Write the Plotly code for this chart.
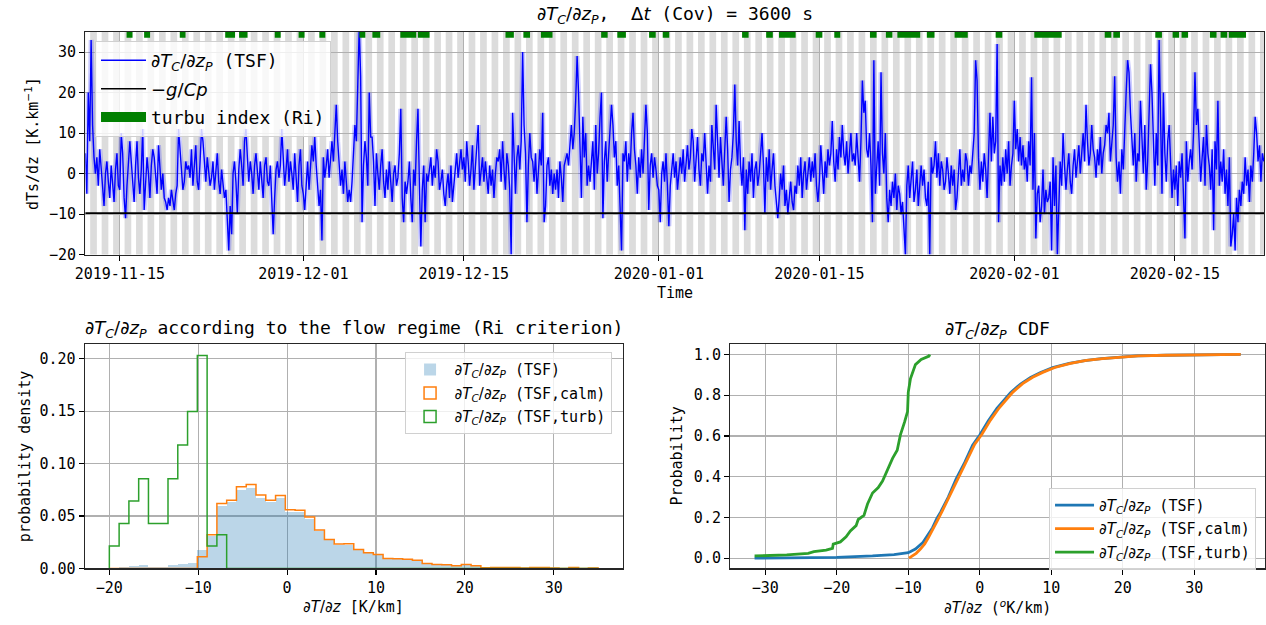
import numpy as np
import pandas as pd
import plotly.graph_objects as go

# ------------------------------------------------------------------ data
series_start = "2019-11-12 00:00"
series_step_hours = 3
# dT/dz (TSF), K/km, one row per day (00,03,...,21 UTC)
dtdz_tsf = [
    5, -5, 20, 8, 33, 12, 4, 0,
    4, -3, 6, 1, -4, -8, 0, 3,
    -2, -6, 2, -4, -7, 1, 5, -3,
    -4, 10, 5, -6, -11, -3, 4, 8,
    3, -2, -7, 2, 8, -1, -5, 1,
    11, -9, -3, 4, 0, -6, 2, 6,
    4, -2, -5, 7, 2, -4, 0, -6,
    -7, -9, -6, -8, -4, -7, -9, -5,
    -3, 11, 5, 0, -4, -2, 3, 1,
    2, -1, 6, -3, 1, 7, -2, -4,
    3, 11, 8, 2, -2, 4, 1, -3,
    -1, 3, -4, 0, 5, -2, -5, 1,
    -3, -6, -4, -10, -19, -8, -15, 0,
    3, -2, -10, 1, 6, 2, -3, 8,
    11, 4, -2, 3, 0, -5, 2, 5,
    1, -4, 3, -1, -6, 2, 4, -2,
    -3, 2, -5, -15, -6, 1, 3, -1,
    2, 11, 4, -3, 1, 6, -2, 3,
    0, -4, 5, -2, -7, 2, 6, -3,
    -5, -9, -2, 3, -4, 1, 7, 3,
    9, 2, -3, -8, -4, -16.5, 4, -1,
    2, 6, -1, 4, 8, 3, 10, 17,
    8, 2, -3, 1, -5, 3, -2, -7,
    -4, -7, -2, 5, 12, 8, 20, 36,
    24, -12, 2, 8, 4, -3, 20, 9,
    9, 3, -8, 5, 0, -4, 2, 6,
    -2, -6, 1, -4, 3, -1, -7, 0,
    2, -3, -1, 5, 16, -6, -12, -2,
    -5, -2, 3, -6, -12, 1, -3, 8,
    16, -3, -18, -4, 2, -12, 0, -2,
    1, 4, -3, 2, -1, 6, 3, -4,
    -2, 1, -5, -8, -3, 0, -6, 2,
    -7, -3, 2, 5, -1, 3, 6, 1,
    4, -2, 8, 3, -3, 1, 7, -4,
    2, 5, 12, -3, 0, 4, -2, 3,
    -1, -5, 2, -3, 1, -6, 0, 4,
    3, 6, -2, 8, 1, -4, 5, 2,
    -4, -20, 15, 2, -5, 4, 7, 1,
    8, 30, 12, 5, -12, 2, 10, 4,
    3, -2, 5, -5, 0, 6, 2, 15,
    -12, -8, 2, 4, -3, 1, -5, 0,
    -4, 1, -6, 3, -1, -7, 2, 4,
    5, 2, 8, 12, 6, 10, 18, 29,
    20, 8, -6, 14, 4, 10, -3, 2,
    -2, 3, 8, -4, 12, 0, 5, 14,
    20, -11, 3, 8, -2, 5, 10, 17,
    12, 4, 8, -3, 2, -8, -19, 5,
    3, 8, -2, 5, 1, 10, 15, 6,
    2, -5, 4, -1, 6, 0, 9, 17,
    10, -9, 2, 5, -1, 4, 1, -3,
    -4, -12, 0, 3, -2, 5, -3, -13,
    -3, 2, 5, -1, 3, -4, 1, 4,
    0, 6, -2, 3, 7, 1, 4, 11,
    8, -2, 4, 9, 1, -3, 5, 3,
    10, 3, -5, 2, -2, 12, 6, 1,
    17, 5, -1, 9, 3, -3, 6, 14,
    6, -7, 1, 4, 10, 22, 8, 2,
    13, 2, -3, 4, -14, 1, -5, 3,
    -2, 5, -6, 1, 3, -3, 0, 6,
    10, 2, -10, 4, -2, 6, -4, 1,
    5, -3, -8, -11, -6, 0, -4, 2,
    -8, -4, -10, -6, -2, -7, -9, -3,
    -5, 2, -3, 4, -6, 0, 3, -4,
    1, 4, -2, 3, -1, 5, -3, -7,
    -2, 7, 1, -5, 3, -1, 6, 2,
    5, 13, 3, -2, 6, 1, 9, 4,
    12, 5, 2, 8, 0, 6, 10, 3,
    5, 2, 10, 4, -2, 8, 23, 15,
    18, 6, 4, 10, 2, -12, 28, -5,
    3, 8, -3, 25, 5, 0, 10, -6,
    -12, -4, -8, -2, -6, 0, -9, -3,
    -5, -10, -7, -14, -20, -3, 2, -6,
    -2, 3, -7, -4, 1, -8, -3, 2,
    -3, 1, -6, -8, -2, -20, 4, 0,
    2, 8, -1, 5, -3, 3, 1, -4,
    -2, 4, 0, -5, 2, -3, 1, -9,
    -6, 2, 6, -3, 1, -2, 5, 3,
    -3, 2, 0, 5, 10, 28, 23, 4,
    -4, 3, -2, 5, 1, -6, 4, 15,
    3, 14, 5, 8, 32, -12, 2, -3,
    4, -2, 6, 0, 8, -3, 2, 5,
    18, 6, 11, 3, 9, 2, 7, 1,
    4, -2, 8, 2, 23.8, -4, 10, -16,
    -5, -3, -12, -8, 1, -10, -4, -7,
    -6, -2, -19, 4, -8, 2, -20, -5,
    3, -3, 10, 2, -4, 1, 5, -2,
    -5, 2, 6, -1, 3, 7, 0, 4,
    10, 3, 17, 8, 2, 5, 12, 6,
    4, -1, 6, 2, 9, 0, 5, 7,
    12, 10, 15, 3, 8, 12, 24, 4,
    -2, 3, -5, 6, 1, 12, 20, 28,
    25, 15, 8, 2, 10, -2, 5, 3,
    18, 6, 0, 12, -4, 3, 15, 27,
    20, 8, -3, 10, 2, 33, 12, -5,
    20, 5, -2, 8, 12, 3, -6, 1,
    -4, 2, -8, 3, -1, 5, -5, -16,
    8, -2, 3, 6, 1, 10, 25, 12,
    16, 6, -2, 4, 9, -3, 12, 5,
    2, -4, 6, -14, 8, 1, 18, -3,
    3, -2, 6, -5, 1, -8, 4, -18,
    -15, -10, -19, -6, -12, -4, -8, -2,
    -5, 4, -3, 1, -7, 2, -2, 5,
    14, 10, 3, 7, -2, 5, 3,
]
minus_g_over_cp = -9.77          # K/km

# turbulence index (Ri) periods, days since 2019-11-15 00:00
turb_ref = "2019-11-15 00:00"
turb_start_day = [0.59, 2.12, 5.23, 9.19, 10.40, 13.51, 15.59, 17.40, 20.89, 22.02,
                  24.46, 25.99, 33.63, 35.19, 36.72, 41.97, 43.38, 46.15, 47.34, 54.26,
                  56.36, 57.48, 60.68, 62.30, 65.41, 66.80, 67.80, 70.37, 72.79, 76.37,
                  79.74, 85.88, 86.63, 90.29, 91.80, 92.58, 95.05, 95.98, 96.70]
turb_end_day = [1.11, 2.64, 5.73, 10.05, 11.14, 14.03, 16.11, 17.92, 21.41, 22.71,
                25.85, 27.01, 34.36, 35.77, 37.73, 42.54, 44.13, 46.73, 47.91, 54.83,
                56.94, 58.93, 61.26, 62.82, 65.99, 67.37, 69.79, 71.04, 73.94, 76.95,
                82.13, 86.46, 87.21, 90.87, 92.37, 93.15, 95.63, 96.56, 98.20]
turb_flag_level = 35

# shaded (night) periods
night_first_day = "2019-11-11"
night_last_day = "2020-02-23"
night_start_hour = 10
night_length_hours = 14

date_ticks = ["2019-11-15", "2019-12-01", "2019-12-15", "2020-01-01",
              "2020-01-15", "2020-02-01", "2020-02-15"]
top_xrange = ["2019-11-12 00:00", "2020-02-22 18:30"]

# histograms (density), 50 bins over [-20, 35]
hist_range = (-20, 35)
hist_nbins = 50
hist_density_all = [0.0007, 0.0015, 0.0022, 0.0030, 0.0015, 0.0015, 0.0030, 0.0040, 0.0050, 0.0175,
                    0.0310, 0.0600, 0.0630, 0.0750, 0.0770, 0.0675, 0.0630, 0.0670, 0.0540, 0.0536,
                    0.0473, 0.0355, 0.0267, 0.0224, 0.0227, 0.0174, 0.0145, 0.0128, 0.0091, 0.0088,
                    0.0085, 0.0075, 0.0045, 0.0037, 0.0033, 0.0024, 0.0037, 0.0024, 0.0006, 0.0009,
                    0.0009, 0.0009, 0.0004, 0.0009, 0.0009, 0.0004, 0.0, 0.0009, 0.0, 0.0004]
hist_density_calm = [0, 0, 0, 0, 0, 0, 0, 0, 0, 0.0110,
                     0.0320, 0.0620, 0.0650, 0.0780, 0.0800, 0.0700, 0.0650, 0.0695, 0.0560, 0.0555,
                     0.0490, 0.0367, 0.0276, 0.0232, 0.0235, 0.0180, 0.0150, 0.0132, 0.0094, 0.0091,
                     0.0088, 0.0078, 0.0047, 0.0038, 0.0034, 0.0025, 0.0038, 0.0025, 0.0006, 0.0009,
                     0.0009, 0.0009, 0.0004, 0.0009, 0.0009, 0.0004, 0.0, 0.0009, 0.0, 0.0004]
hist_density_turb = [0.0213, 0.0428, 0.0642, 0.0856, 0.0428, 0.0428, 0.0856, 0.1177, 0.1497, 0.2032,
                     0.0214, 0.0321] + [0.0] * 38

# CDFs
cdf_all_x = [-31.5, -25, -20, -15, -12, -10, -9, -8, -7.3, -6.6, -6.0, -5.5, -4.4, -3.3, -2.1,
             -1.0, 0.0, 1.2, 2.4, 3.3, 4.3, 5.7, 7.1, 8.5, 10.2, 12.5, 14.7, 17, 19.7, 22, 26, 30, 36.5]
cdf_all_p = [0.0, 0.002, 0.004, 0.011, 0.018, 0.027, 0.045, 0.075, 0.11, 0.15, 0.195, 0.225, 0.30,
             0.39, 0.47, 0.555, 0.605, 0.675, 0.735, 0.772, 0.812, 0.855, 0.887, 0.911, 0.935,
             0.956, 0.970, 0.980, 0.987, 0.993, 0.996, 0.998, 1.0]
cdf_calm_x = [-9.9, -9.4, -8.9, -8.3, -7.7, -7.2, -6.6, -6.0, -5.2, -4.1, -3.0, -1.8, -0.7, 0.3,
              1.5, 2.7, 3.6, 4.6, 6.0, 7.4, 8.8, 10.5, 12.7, 14.9, 17.2, 19.9, 22.2, 26, 30, 36.5]
cdf_calm_p = [0.0, 0.01, 0.024, 0.045, 0.07, 0.10, 0.137, 0.18, 0.235, 0.315, 0.40, 0.48, 0.56,
              0.608, 0.678, 0.737, 0.775, 0.814, 0.857, 0.888, 0.912, 0.936, 0.956, 0.971, 0.980,
              0.987, 0.993, 0.996, 0.998, 1.0]
cdf_turb_x = [-31.5, -27, -24.0, -23.2, -21.5, -20.6, -20.5, -19.5, -18.7, -18.1, -17.3, -17.0,
              -16.2, -15.7, -15.0, -14.2, -13.6, -12.8, -12.2, -11.55, -11.1, -10.5, -10.1, -10.0,
              -9.7, -9.0, -8.2, -7.1, -7.0]
cdf_turb_p = [0.011, 0.016, 0.024, 0.032, 0.04, 0.048, 0.069, 0.08, 0.105, 0.134, 0.16, 0.19, 0.21,
              0.266, 0.32, 0.347, 0.379, 0.44, 0.49, 0.53, 0.605, 0.67, 0.72, 0.815, 0.88, 0.95,
              0.975, 0.992, 1.0]

# ------------------------------------------------------------------ style
W, H = 1266, 625
MONO = "DejaVu Sans Mono"
SANS = "DejaVu Sans"
FS = 15
FS_T = 18
C0, C1, C2 = "#1f77b4", "#ff7f0e", "#2ca02c"
GRID = "#b0b0b0"
SPINE = "#262626"


def m(s):
    return f'<span style="font-family:{SANS}">{s}</span>'


DTDZ = m("∂<i>T</i><sub><i>C</i></sub>/∂<i>z</i><sub><i>P</i></sub>")


def px_x(x):
    return x / W


def px_y(y):
    return 1 - y / H


# ------------------------------------------------------------------ figure
times = pd.date_range(series_start, periods=len(dtdz_tsf), freq=f"{series_step_hours}h")
fig = go.Figure()

# nights
for d in pd.date_range(night_first_day, night_last_day, freq="D"):
    x0 = d + pd.Timedelta(hours=night_start_hour)
    x1 = x0 + pd.Timedelta(hours=night_length_hours)
    fig.add_shape(type="rect", xref="x", yref="y domain", x0=x0, x1=x1, y0=0, y1=1,
                  fillcolor="#dcdcdc", line=dict(width=0), layer="below")

fig.add_trace(go.Scatter(x=times, y=dtdz_tsf, mode="lines", line=dict(color="rgba(0,0,255,0.2)", width=5),
                         showlegend=False, hoverinfo="skip", xaxis="x", yaxis="y"))
fig.add_trace(go.Scatter(x=times, y=dtdz_tsf, mode="lines", line=dict(color="#0000ff", width=1.4),
                         name=DTDZ + " (TSF)", legend="legend", legendgroup="a", xaxis="x", yaxis="y"))
fig.add_trace(go.Scatter(x=[times[0] - pd.Timedelta(days=1), times[-1] + pd.Timedelta(days=1)],
                         y=[minus_g_over_cp, minus_g_over_cp], mode="lines",
                         line=dict(color="black", width=1.6), name=m("−<i>g</i>/<i>Cp</i>"),
                         legend="legend", legendgroup="b", xaxis="x", yaxis="y"))
tref = pd.Timestamp(turb_ref)
tx, ty = [], []
for s, e in zip(turb_start_day, turb_end_day):
    tx += [tref + pd.Timedelta(days=s), tref + pd.Timedelta(days=e), None]
    ty += [turb_flag_level, turb_flag_level, None]
fig.add_trace(go.Scatter(x=tx, y=ty, mode="lines", line=dict(color="green", width=12),
                         name="turbu index (Ri)", legend="legend", legendgroup="c",
                         xaxis="x", yaxis="y"))

# histograms
edges = np.linspace(hist_range[0], hist_range[1], hist_nbins + 1)
centers = (edges[:-1] + edges[1:]) / 2
bw = edges[1] - edges[0]
fig.add_trace(go.Bar(x=centers, y=hist_density_all, width=bw, marker=dict(color="rgba(31,119,180,0.3)", line=dict(width=0)),
                     name=DTDZ + " (TSF)", legend="legend2", legendgroup="d", xaxis="x2", yaxis="y2"))


def step_xy(dens):
    xs = [edges[0]] + list(edges[:-1]) + [edges[-1]]
    ys = [0] + list(dens) + [0]
    return xs, ys


for dens, col, nm, grp in [(hist_density_calm, C1, " (TSF,calm)", "e"),
                           (hist_density_turb, C2, " (TSF,turb)", "f")]:
    xs, ys = step_xy(dens)
    fig.add_trace(go.Scatter(x=xs, y=ys, mode="lines", line=dict(color=col, width=1.5, shape="hv"),
                             showlegend=False, xaxis="x2", yaxis="y2"))
    fig.add_trace(go.Bar(x=[None], y=[None], marker=dict(color="rgba(255,255,255,0)", line=dict(color=col, width=1.5)),
                         name=DTDZ + nm, legend="legend2", legendgroup=grp, xaxis="x2", yaxis="y2"))

# CDFs
for xs, ps, col, nm, grp in [(cdf_all_x, cdf_all_p, C0, " (TSF)", "g"),
                             (cdf_calm_x, cdf_calm_p, C1, " (TSF,calm)", "h"),
                             (cdf_turb_x, cdf_turb_p, C2, " (TSF,turb)", "i")]:
    fig.add_trace(go.Scatter(x=xs, y=ps, mode="lines", line=dict(color=col, width=2.8),
                             name=DTDZ + nm, legend="legend3", legendgroup=grp, xaxis="x3", yaxis="y3"))

# ------------------------------------------------------------------ axes
axcommon = dict(showline=True, mirror=True, linecolor=SPINE, linewidth=1.3, ticks="outside",
                ticklen=5, tickwidth=1.1, tickcolor="black", showgrid=True, gridcolor=GRID,
                gridwidth=1.1, zeroline=False, tickfont=dict(family=MONO, size=FS, color="black"))


def neg(v, fmt):
    s = fmt.format(v)
    return s.replace("-", "−")


fig.update_layout(
    width=W, height=H, margin=dict(l=0, r=0, t=0, b=0), paper_bgcolor="white", plot_bgcolor="white",
    barmode="overlay", bargap=0, hovermode=False,
    font=dict(family=MONO, size=FS, color="black"),
    xaxis=dict(axcommon, domain=[px_x(76), px_x(1264)], anchor="y", type="date", range=top_xrange,
               tickvals=date_ticks, ticktext=date_ticks),
    yaxis=dict(axcommon, domain=[px_y(258.3), px_y(32.3)], anchor="x", range=[-20, 35],
               tickvals=[-20, -10, 0, 10, 20, 30], ticktext=[neg(v, "{:d}") for v in [-20, -10, 0, 10, 20, 30]]),
    xaxis2=dict(axcommon, domain=[px_x(75.5), px_x(617.5)], anchor="y2", range=[-22.75, 37.75],
                tickvals=[-20, -10, 0, 10, 20, 30], ticktext=[neg(v, "{:d}") for v in [-20, -10, 0, 10, 20, 30]]),
    yaxis2=dict(axcommon, domain=[px_y(576.7), px_y(349.3)], anchor="x2", range=[0, 0.2138],
                tickvals=[0, 0.05, 0.10, 0.15, 0.20], ticktext=["0.00", "0.05", "0.10", "0.15", "0.20"]),
    xaxis3=dict(axcommon, domain=[px_x(726), px_x(1265)], anchor="y3", range=[-34.9, 39.9],
                tickvals=[-30, -20, -10, 0, 10, 20, 30], ticktext=[neg(v, "{:d}") for v in [-30, -20, -10, 0, 10, 20, 30]]),
    yaxis3=dict(axcommon, domain=[px_y(576.7), px_y(349.3)], anchor="x3", range=[-0.05, 1.05],
                tickvals=[0, 0.2, 0.4, 0.6, 0.8, 1.0], ticktext=["0.0", "0.2", "0.4", "0.6", "0.8", "1.0"]),
    legend=dict(x=px_x(85.7), y=px_y(41.7), xanchor="left", yanchor="top", bgcolor="rgba(255,255,255,0.8)",
                bordercolor="#d0d0d0", borderwidth=1, font=dict(family=MONO, size=FS_T), itemwidth=45,
                tracegroupgap=2),
    legend2=dict(x=px_x(397.7), y=px_y(357.3), xanchor="left", yanchor="top", bgcolor="rgba(255,255,255,0.8)",
                 bordercolor="#d0d0d0", borderwidth=1, font=dict(family=MONO, size=FS), itemwidth=39,
                 tracegroupgap=1),
    legend3=dict(x=px_x(1047.3), y=px_y(495), xanchor="left", yanchor="top", bgcolor="rgba(255,255,255,0.8)",
                 bordercolor="#d0d0d0", borderwidth=1, font=dict(family=MONO, size=FS), itemwidth=39,
                 tracegroupgap=1),
)

ann = [
    dict(text=DTDZ + ",\u00a0\u00a0" + m("Δ<i>t</i>") + " (Cov) = 3600 s", x=px_x(670), y=px_y(15), size=FS_T),
    dict(text=DTDZ + " according to the flow regime (Ri criterion)", x=px_x(346.5), y=px_y(333.5), size=FS_T),
    dict(text=DTDZ + " CDF", x=px_x(995.5), y=px_y(334.5), size=FS_T),
    dict(text="Time", x=px_x(670), y=px_y(297.7), size=FS),
    dict(text=m("∂<i>T</i>/∂<i>z</i>") + " [K/km]", x=px_x(346.5), y=px_y(616), size=FS),
    dict(text=m("∂<i>T</i>/∂<i>z</i>") + " (" + m("<sup><i>o</i></sup>") + "K/km)", x=px_x(995.5), y=px_y(616), size=FS),
    dict(text="dTs/dz [K.km" + m("<sup>−1</sup>") + "]", x=px_x(22), y=px_y(145.3), size=FS, angle=-90),
    dict(text="probability density", x=px_x(15), y=px_y(463), size=FS, angle=-90),
    dict(text="Probability", x=px_x(672.6), y=px_y(463), size=FS, angle=-90),
]
for a in ann:
    fig.add_annotation(text=a["text"], x=a["x"], y=a["y"], xref="paper", yref="paper", showarrow=False,
                       xanchor="center", yanchor="middle", textangle=a.get("angle", 0),
                       font=dict(family=MONO, size=a["size"], color="black"))

fig.write_html(
    "out.html",
    config={"displayModeBar": False, "staticPlot": True},
    post_script=("document.body.style.margin='0px';document.body.style.padding='0px';"
                 "document.documentElement.style.overflow='hidden';"),
)
